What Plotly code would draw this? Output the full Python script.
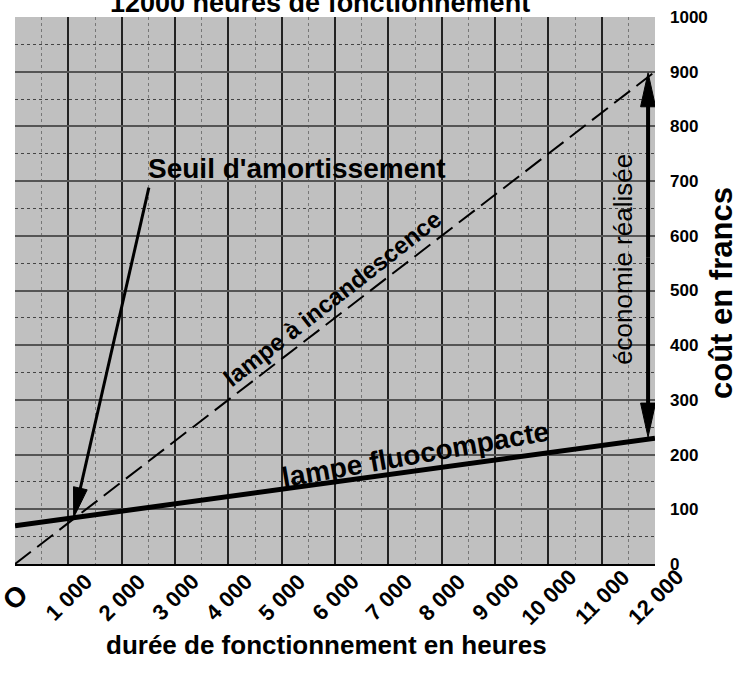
import math
import plotly.graph_objects as go

# ---- data ----
hours = [0, 12000]
cost_incandescent = [0, 900]
cost_fluocompact = [70, 230]
x_tickvals = [0, 1000, 2000, 3000, 4000, 5000, 6000, 7000, 8000, 9000, 10000, 11000, 12000]
x_ticktext = ["O", "1 000", "2 000", "3 000", "4 000", "5 000", "6 000", "7 000",
              "8 000", "9 000", "10 000", "11 000", "12 000"]
y_tickvals = [0, 100, 200, 300, 400, 500, 600, 700, 800, 900, 1000]
breakeven = (1100, 85)

W, H = 735, 677
ML, MR, MT, MB = 15, 80, 17, 113
PW, PH = W - ML - MR, H - MT - MB
PX_X = PW / 12000.0
PX_Y = PH / 1000.0

FONT = "Liberation Sans, Arial, sans-serif"

fig = go.Figure()
fig.add_trace(go.Scatter(x=hours, y=cost_incandescent, mode="lines",
                         line=dict(color="black", width=2, dash="20px,8px"),
                         showlegend=False, hoverinfo="skip"))
fig.add_trace(go.Scatter(x=hours, y=cost_fluocompact, mode="lines",
                         line=dict(color="black", width=5),
                         showlegend=False, hoverinfo="skip"))

shapes = []


def arrow(tip, tail, head_len, head_w, shaft_w):
    dx = (tail[0] - tip[0]) * PX_X
    dy = (tail[1] - tip[1]) * PX_Y
    d = math.hypot(dx, dy)
    ux, uy = dx / d, dy / d
    px_, py_ = -uy, ux
    bx, by = ux * head_len, uy * head_len
    p1 = (bx + px_ * head_w / 2, by + py_ * head_w / 2)
    p2 = (bx - px_ * head_w / 2, by - py_ * head_w / 2)
    shapes.append(dict(type="path", xref="x", yref="y", xsizemode="pixel", ysizemode="pixel",
                       xanchor=tip[0], yanchor=tip[1],
                       path=f"M {bx*0.8:.2f},{by*0.8:.2f} L {dx:.2f},{dy:.2f}",
                       line=dict(color="black", width=shaft_w)))
    shapes.append(dict(type="path", xref="x", yref="y", xsizemode="pixel", ysizemode="pixel",
                       xanchor=tip[0], yanchor=tip[1],
                       path=f"M 0,0 L {p1[0]:.2f},{p1[1]:.2f} L {p2[0]:.2f},{p2[1]:.2f} Z",
                       fillcolor="black", line=dict(color="black", width=1)))


# Seuil arrow
arrow(breakeven, (2510, 688), 30, 14, 3)
# economy double arrow
xe = 11870
arrow((xe, 898), (xe, 560), 34, 15, 4)
arrow((xe, 232), (xe, 560), 34, 15, 4)


def px_to_paper_x(px):
    return (px - ML) / PW


def px_to_paper_y(py):
    return (MT + PH - py) / PH


annotations = [
    dict(text="12000 heures de fonctionnement", x=px_to_paper_x(320), y=1.0,
         xref="paper", yref="paper", yshift=-3, yanchor="bottom", showarrow=False,
         font=dict(family=FONT, size=27, color="black", weight="bold")),
    dict(text="Seuil d'amortissement", x=5290, y=723, xref="x", yref="y", showarrow=False,
         font=dict(family=FONT, size=28, color="black", weight="bold")),
    dict(text="lampe à incandescence", x=5944, y=486, xref="x", yref="y", showarrow=False,
         textangle=-38, font=dict(family=FONT, size=24, color="black", weight="bold")),
    dict(text="lampe fluocompacte", x=7500, y=201, xref="x", yref="y", showarrow=False,
         textangle=-10, font=dict(family=FONT, size=28, color="black", weight="bold")),
    dict(text="économie réalisée", x=11400, y=556, xref="x", yref="y", showarrow=False,
         textangle=-90, font=dict(family=FONT, size=26, color="black")),
    dict(text="coût en francs", x=px_to_paper_x(721), y=px_to_paper_y(293),
         xref="paper", yref="paper",
         showarrow=False, textangle=-90, xanchor="center", yanchor="middle",
         font=dict(family=FONT, size=31, color="black", weight="bold")),
    dict(text="durée de fonctionnement en heures", x=px_to_paper_x(326), y=px_to_paper_y(645),
         xref="paper", yref="paper", showarrow=False, xanchor="center", yanchor="middle",
         font=dict(family=FONT, size=26, color="black", weight="bold")),
]

# rotated x tick labels, centred under each tick
for v, t in zip(x_tickvals, x_ticktext):
    annotations.append(dict(text=t, x=v, y=px_to_paper_y(597), xref="x", yref="paper",
                            showarrow=False, textangle=-45, xanchor="center", yanchor="middle",
                            font=dict(family=FONT, size=(28 if t == "O" else 22),
                                      color="black", weight="bold")))

fig.update_layout(
    width=W, height=H,
    margin=dict(l=ML, r=MR, t=MT, b=MB, autoexpand=False),
    paper_bgcolor="white",
    plot_bgcolor="#c0c0c0",
    shapes=shapes,
    annotations=annotations,
    showlegend=False,
    xaxis=dict(range=[0, 12000], tickvals=x_tickvals, showticklabels=False,
               automargin=False,
               showgrid=True, gridcolor="#222222", gridwidth=1.5, zeroline=False,
               showline=True, linecolor="black", linewidth=2, ticks="",
               minor=dict(dtick=500, tick0=0, showgrid=True, gridcolor="#777777",
                          griddash="dot", gridwidth=1)),
    yaxis=dict(range=[0, 1000], tickvals=y_tickvals, side="right", automargin=False,
               tickfont=dict(family=FONT, size=17, color="black", weight="bold"),
               showgrid=True, gridcolor="#555555", gridwidth=2, zeroline=False,
               showline=False, ticks="", ticklabelstandoff=14,
               minor=dict(dtick=50, tick0=0, showgrid=True, gridcolor="#444444",
                          griddash="dot", gridwidth=1)),
)

fig.write_html("out.html", config={"displayModeBar": False},
               post_script="document.body.style.margin='0';document.body.style.overflow='hidden';")
